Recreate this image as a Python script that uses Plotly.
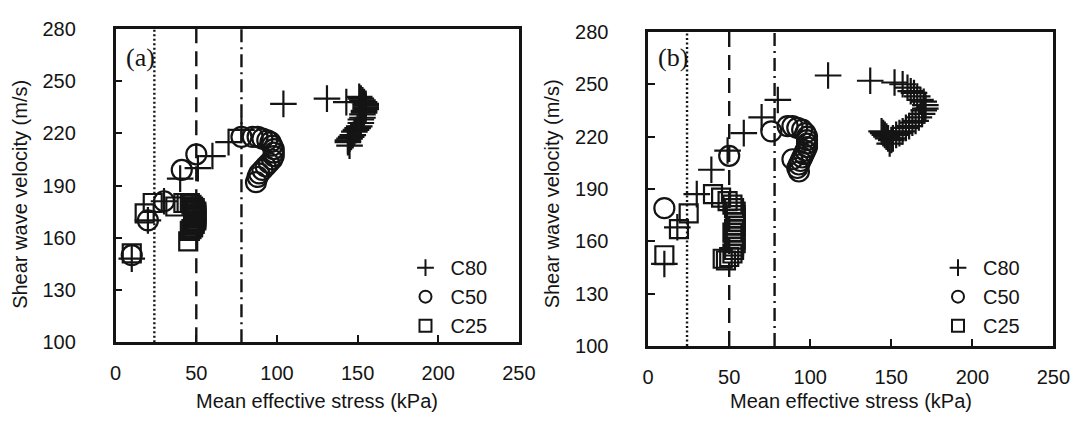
import plotly.graph_objects as go

W, H = 1089, 431

# ---------------- panel (a) ----------------
a_c80_x = [10, 20, 30, 40, 51, 60, 70, 78, 104, 131, 143, 151,
           152, 153, 154, 155, 155, 155, 155, 154, 154, 153, 153, 152, 152,
           151, 150, 149, 148, 147, 146, 145, 144, 144, 145]
a_c80_y = [148, 170, 181, 194, 200, 207, 215, 222, 237, 240, 238, 241,
           240, 239, 238, 237, 236, 235, 234, 233, 232, 231, 229, 228, 226,
           224, 223, 222, 221, 219, 218, 217, 216, 215, 213]

a_c50_x = [10, 20, 30, 41, 50, 78, 85, 88, 91, 94, 96, 97, 98, 98, 98, 97, 95, 93, 91, 89, 88, 87]
a_c50_y = [150, 170, 181, 199, 208, 218, 218, 218, 217, 216, 215, 213, 211, 209, 207, 205, 203, 201, 199, 197, 195, 192]

a_c25_x = [10, 18, 23, 37, 42, 44, 46, 47, 48, 49, 49, 50, 50, 50, 50, 50, 50, 49, 49, 48, 48, 47, 46, 45]
a_c25_y = [151, 174, 180, 178, 180, 180, 180, 179, 178, 177, 176, 175, 174, 173, 172, 171, 170, 169, 168, 167, 166, 165, 164, 158]

# ---------------- panel (b) ----------------
b_c80_x = [10, 18, 30, 39, 49, 59, 70, 80, 111, 137, 152, 157,
           160, 162, 164, 166, 168, 170, 171, 171, 170, 169, 167, 165, 163, 161,
           159, 157, 155, 153, 151, 150, 149, 148, 147, 146, 145, 144]
b_c80_y = [147, 168, 187, 201, 212, 222, 231, 241, 255, 252, 251, 250,
           248, 246, 245, 243, 241, 240, 238, 236, 235, 233, 231, 229, 228, 226,
           225, 223, 222, 221, 219, 218, 216, 219, 220, 221, 222, 223]

b_c50_x = [10, 50, 76, 86, 89, 92, 95, 97, 98, 98, 98, 98, 97, 96, 95, 94, 93, 92, 93, 89]
b_c50_y = [179, 209, 223, 226, 226, 225, 224, 222, 220, 218, 216, 214, 212, 210, 208, 206, 204, 202, 200, 207]

b_c25_x = [10, 19, 25, 40, 45, 49, 52, 53, 54, 54, 54, 54, 54, 53, 52, 53, 54, 54, 53, 53, 52, 50, 46, 48]
b_c25_y = [152, 167, 176, 187, 185, 183, 181, 179, 177, 175, 173, 171, 169, 167, 165, 163, 161, 159, 157, 155, 153, 151, 150, 149]

# reference stress levels (dotted, dashed, dash-dot)
ref_x = [24, 50, 78]
ref_dash = ["2px,2.5px", "15px,8px", "13px,5px,2px,5px"]

series_names = ["C80", "C50", "C25"]
x_ticks = [0, 50, 100, 150, 200, 250]
y_ticks = [100, 130, 160, 190, 220, 250, 280]

INK = "#141414"
SANS = "Liberation Sans, Arial, sans-serif"
SERIF = "Liberation Serif, Times New Roman, serif"

fig = go.Figure()

def add_series(xs, ys, name, symbol, size, xa, ya, legend):
    fig.add_trace(go.Scatter(
        x=xs, y=ys, mode="markers", name=name,
        xaxis=xa, yaxis=ya, legend=legend,
        marker=dict(symbol=symbol, size=size, color=INK,
                    line=dict(color=INK, width=2.2)),
    ))

panels = [
    ("x", "y", "legend", (a_c80_x, a_c80_y), (a_c50_x, a_c50_y), (a_c25_x, a_c25_y)),
    ("x2", "y2", "legend2", (b_c80_x, b_c80_y), (b_c50_x, b_c50_y), (b_c25_x, b_c25_y)),
]
for xa, ya, leg, c80, c50, c25 in panels:
    add_series(*c80, series_names[0], "cross-thin-open", 19, xa, ya, leg)
    add_series(*c50, series_names[1], "circle-open", 20, xa, ya, leg)
    add_series(*c25, series_names[2], "square-open", 18, xa, ya, leg)

# frame positions in pixels
frames = {
    "a": dict(left=112, right=524, top=19, bottom=349),
    "b": dict(left=656, right=1070, top=22, bottom=353),
}

def xdom(f):
    return [f["left"] / W, f["right"] / W]

def ydom(f):
    return [1 - f["bottom"] / H, 1 - f["top"] / H]

axis_common = dict(
    showline=True, linewidth=2.5, linecolor=INK, mirror=True,
    ticks="inside", ticklen=7, tickwidth=2, tickcolor=INK,
    showgrid=False, zeroline=False,
    tickfont=dict(family=SANS, size=20, color=INK),
)

fig.update_layout(
    width=W, height=H, autosize=False,
    margin=dict(l=0, r=0, t=0, b=0),
    paper_bgcolor="white", plot_bgcolor="white",
    xaxis=dict(domain=xdom(frames["a"]), range=[0, 250], tickvals=x_ticks,
               anchor="y", ticklabelstandoff=11, **axis_common),
    yaxis=dict(domain=ydom(frames["a"]), range=[100, 280], tickvals=y_ticks,
               anchor="x", ticklabelstandoff=33, **axis_common),
    xaxis2=dict(domain=xdom(frames["b"]), range=[0, 250], tickvals=x_ticks,
                anchor="y2", ticklabelstandoff=11, **axis_common),
    yaxis2=dict(domain=ydom(frames["b"]), range=[100, 280], tickvals=y_ticks,
                anchor="x2", ticklabelstandoff=33, **axis_common),
    showlegend=True,
)

leg_common = dict(
    font=dict(family=SANS, size=20, color=INK),
    bgcolor="rgba(0,0,0,0)", borderwidth=0,
    itemsizing="constant", itemwidth=40, xanchor="left", yanchor="middle",
    tracegroupgap=0,
)
fig.update_layout(
    legend=dict(x=(frames["a"]["left"] + 291) / W, y=1 - 301 / H, **leg_common),
    legend2=dict(x=(frames["b"]["left"] + 291) / W, y=1 - 301 / H, **leg_common),
)

# vertical reference lines in both panels
for xa, ya in [("x", "y"), ("x2", "y2")]:
    for xv, dash in zip(ref_x, ref_dash):
        fig.add_shape(type="line", xref=xa, yref=f"{ya} domain",
                      x0=xv, x1=xv, y0=0, y1=1,
                      line=dict(color=INK, width=2.4, dash=dash))

# panel labels and axis titles
for key, tag in [("a", "(a)"), ("b", "(b)")]:
    f = frames[key]
    fig.add_annotation(text=tag, xref="paper", yref="paper",
                       x=(f["left"] + 25) / W, y=1 - 49 / H,
                       xanchor="center", yanchor="middle",
                       showarrow=False, font=dict(family=SERIF, size=26, color=INK))
    fig.add_annotation(text="Mean effective stress (kPa)", xref="paper", yref="paper",
                       x=(f["left"] + f["right"]) / 2 / W, y=1 - 411 / H,
                       xanchor="center", yanchor="middle",
                       showarrow=False, font=dict(family=SANS, size=20, color=INK))
    fig.add_annotation(text="Shear wave velocity (m/s)", xref="paper", yref="paper",
                       x=(f["left"] - 98) / W, y=1 - 193 / H, textangle=-90,
                       xanchor="center", yanchor="middle",
                       showarrow=False, font=dict(family=SANS, size=20, color=INK))

fig.write_html("out.html")
